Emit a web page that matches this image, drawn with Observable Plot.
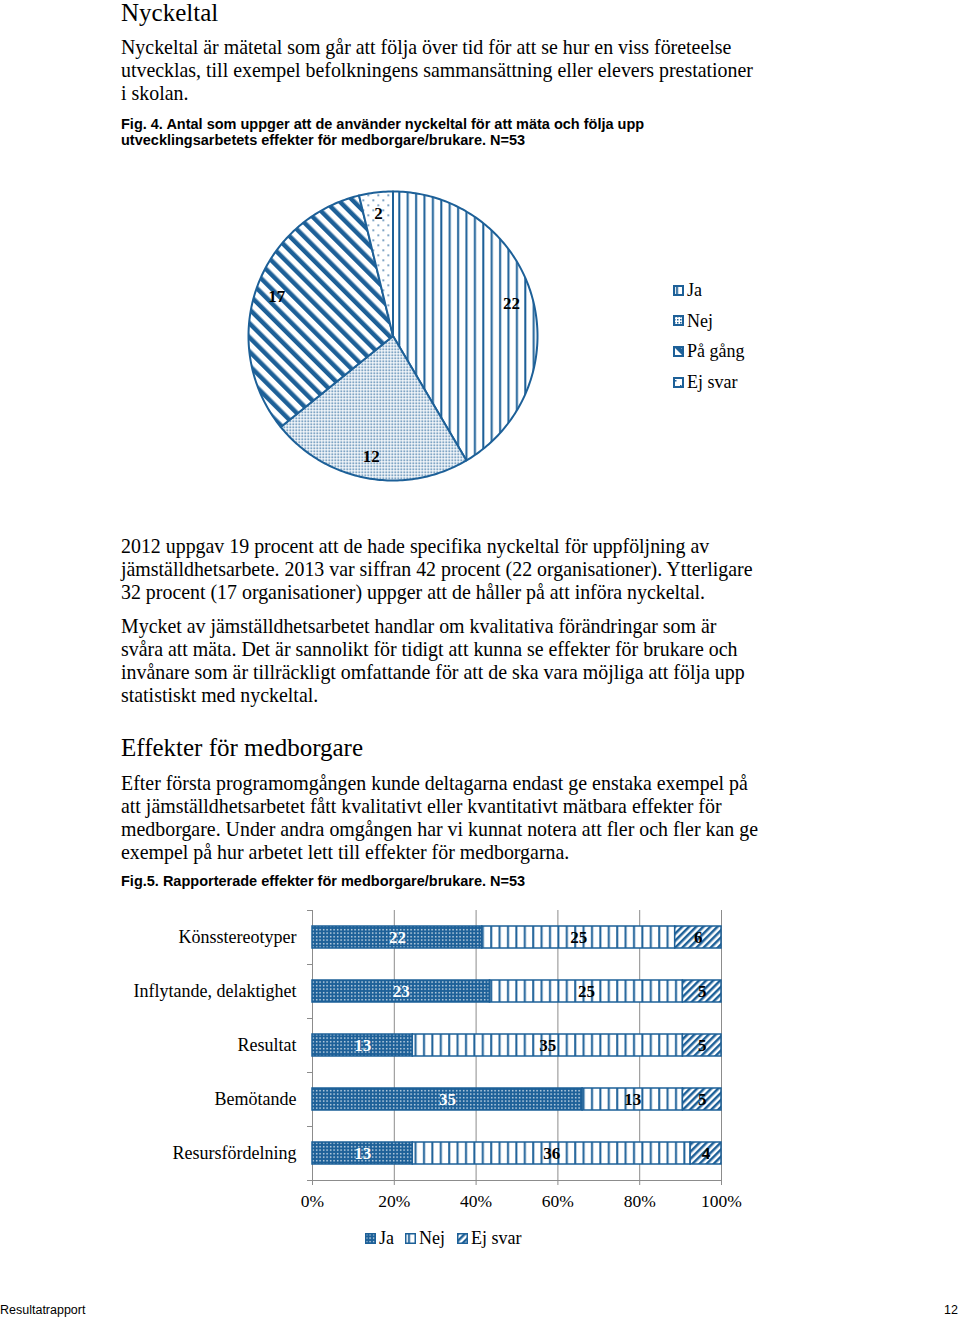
<!DOCTYPE html>
<html>
<head>
<meta charset="utf-8">
<script src="https://cdn.jsdelivr.net/npm/d3@7"></script>
<script src="https://cdn.jsdelivr.net/npm/@observablehq/plot@0.6"></script>
<style>
  body { margin: 0; background: #fff; }
  #page { position: relative; width: 960px; height: 1318px; overflow: hidden; background: #fff;
          font-family: "Liberation Serif", "Times New Roman", serif; color: #000; }
  .t { position: absolute; white-space: nowrap; }
  .h { font-size: 25px; line-height: 24px; }
  .p { font-size: 19.9px; line-height: 23px; }
  .cap { font-family: "Liberation Sans", Arial, sans-serif; font-weight: bold; font-size: 14.5px; line-height: 16px; }
  .foot { font-family: "Liberation Sans", Arial, sans-serif; font-size: 12.5px; line-height: 16px; }
  .chart { position: absolute; left: 0; }
  .leg { position: absolute; font-size: 18px; line-height: 20px; white-space: nowrap; display: flex; align-items: center; }
  .leg svg { display: block; margin-right: 3px; }
</style>
</head>
<body>
<svg width="0" height="0" style="position:absolute">
  <defs>
    <pattern id="pVert" width="8.4" height="8" patternUnits="userSpaceOnUse">
      <rect width="8.4" height="8" fill="#fff"/>
      <rect x="3" width="2" height="8" fill="#1d6098"/>
    </pattern>
    <pattern id="pDense" width="3" height="3" patternUnits="userSpaceOnUse">
      <rect width="3" height="3" fill="#fff"/>
      <rect x="1" y="1" width="1.5" height="1.5" fill="#1d6098"/>
    </pattern>
    <pattern id="pBack" width="10" height="10" patternUnits="userSpaceOnUse" patternTransform="rotate(-45)">
      <rect width="10" height="10" fill="#fff"/>
      <rect x="0" width="4.5" height="10" fill="#1d6098"/>
    </pattern>
    <pattern id="pSparse" width="10" height="10" patternUnits="userSpaceOnUse">
      <rect width="10" height="10" fill="#fff"/>
      <rect x="2" y="3" width="1.5" height="1.5" fill="#1d6098"/>
      <rect x="7" y="8" width="1.5" height="1.5" fill="#1d6098"/>
    </pattern>
    <pattern id="pBlueDots" width="3.5" height="3.5" patternUnits="userSpaceOnUse">
      <rect width="3.5" height="3.5" fill="#1d6098"/>
      <rect x="1" y="1" width="1.3" height="1.3" fill="#fff"/>
    </pattern>
    <pattern id="pSlash" width="5" height="5" patternUnits="userSpaceOnUse" patternTransform="rotate(45)">
      <rect width="5" height="5" fill="#fff"/>
      <rect x="0" width="2.5" height="5" fill="#1d6098"/>
    </pattern>
  </defs>
</svg>

<div id="page">
  <div class="t h" style="left:121px; top:1px;">Nyckeltal</div>
  <div class="t p" style="left:121px; top:35.5px;">Nyckeltal är mätetal som går att följa över tid för att se hur en viss företeelse<br>utvecklas, till exempel befolkningens sammansättning eller elevers prestationer<br>i skolan.</div>
  <div class="t cap" style="left:121px; top:116px;">Fig. 4. Antal som uppger att de använder nyckeltal för att mäta och följa upp<br>utvecklingsarbetets effekter för medborgare/brukare. N=53</div>

  <div id="pie" class="chart" style="top:176px;"></div>
  <div id="pieLegend"></div>

  <div class="t p" style="left:121px; top:534.5px;">2012 uppgav 19 procent att de hade specifika nyckeltal för uppföljning av<br>jämställdhetsarbete. 2013 var siffran 42 procent (22 organisationer). Ytterligare<br>32 procent (17 organisationer) uppger att de håller på att införa nyckeltal.</div>
  <div class="t p" style="left:121px; top:614.5px;">Mycket av jämställdhetsarbetet handlar om kvalitativa förändringar som är<br>svåra att mäta. Det är sannolikt för tidigt att kunna se effekter för brukare och<br>invånare som är tillräckligt omfattande för att de ska vara möjliga att följa upp<br>statistiskt med nyckeltal.</div>
  <div class="t h" style="left:121px; top:736px;">Effekter för medborgare</div>
  <div class="t p" style="left:121px; top:771.5px;">Efter första programomgången kunde deltagarna endast ge enstaka exempel på<br>att jämställdhetsarbetet fått kvalitativt eller kvantitativt mätbara effekter för<br>medborgare. Under andra omgången har vi kunnat notera att fler och fler kan ge<br>exempel på hur arbetet lett till effekter för medborgarna.</div>
  <div class="t cap" style="left:121px; top:873px;">Fig.5. Rapporterade effekter för medborgare/brukare. N=53</div>

  <div id="bars" class="chart" style="top:900px;"></div>
  <div id="barLegend"></div>

  <div class="t foot" style="left:0px; top:1302px;">Resultatrapport</div>
  <div class="t foot" style="right:2px; top:1302px;">12</div>
</div>

<script>
// ---- data ----
const pieCategories = ["Ja", "Nej", "På gång", "Ej svar"];
const pieValues = [22, 12, 17, 2];

const barCategories = ["Könsstereotyper", "Inflytande, delaktighet", "Resultat", "Bemötande", "Resursfördelning"];
const barSeries = ["Ja", "Nej", "Ej svar"];
const jaValues = [22, 23, 13, 35, 13];
const nejValues = [25, 25, 35, 13, 36];
const ejSvarValues = [6, 5, 5, 5, 4];
const xTickValues = [0, 0.2, 0.4, 0.6, 0.8, 1];

// ---- styles ----
const blue = "#1d6098";
const gray = "#8c8c8c";
const piePatterns = ["url(#pVert)", "url(#pDense)", "url(#pBack)", "url(#pSparse)"];
const barPatterns = ["url(#pBlueDots)", "url(#pVert)", "url(#pSlash)"];
const font = "'Liberation Serif', 'Times New Roman', serif";

// ---- pie ----
const pieData = pieCategories.map((cat, i) => ({cat, value: pieValues[i]}));
const arcs = d3.pie().sort(null).value(d => d.value)(pieData);
const piePoints = arcs.flatMap(a => {
  const n = Math.max(2, Math.ceil((a.endAngle - a.startAngle) / (Math.PI / 180)));
  const pts = [{cat: a.data.cat, x: 0, y: 0}];
  for (let i = 0; i <= n; i++) {
    const t = a.startAngle + (a.endAngle - a.startAngle) * i / n;
    pts.push({cat: a.data.cat, x: Math.sin(t), y: Math.cos(t)});
  }
  return pts;
});
const pieLabels = arcs.map(a => {
  const m = (a.startAngle + a.endAngle) / 2;
  return {value: a.data.value, x: 0.85 * Math.sin(m), y: 0.85 * Math.cos(m)};
});

const pie = Plot.plot({
  width: 960, height: 320, margin: 0,
  style: {fontFamily: font, background: "transparent", color: "#000", overflow: "visible"},
  x: {domain: [-1, 1], range: [248, 537], axis: null},
  y: {domain: [-1, 1], range: [304, 15], axis: null},
  color: {domain: pieCategories, range: piePatterns},
  marks: [
    Plot.line(piePoints, {x: "x", y: "y", z: "cat", fill: "cat", stroke: blue, strokeWidth: 2,
                          curve: "linear-closed", strokeLinejoin: "round"}),
    Plot.text(pieLabels, {x: "x", y: "y", text: "value", fontWeight: "bold", fontSize: 17, fill: "#000"})
  ]
});
document.getElementById("pie").appendChild(pie);

// pie legend
const pieLegend = document.getElementById("pieLegend");
pieCategories.forEach((c, i) => {
  const d = document.createElement("div");
  d.className = "leg";
  d.style.left = "673px";
  d.style.top = (280 + i * 30.7) + "px";
  d.innerHTML = `<svg width="11" height="11"><rect x="1" y="1" width="9" height="9" fill="${piePatterns[i]}" stroke="${blue}" stroke-width="2"/></svg><span>${c}</span>`;
  pieLegend.appendChild(d);
});

// ---- bars ----
const barData = barCategories.flatMap((cat, i) => [
  {cat, series: "Ja", value: jaValues[i]},
  {cat, series: "Nej", value: nejValues[i]},
  {cat, series: "Ej svar", value: ejSvarValues[i]}
]);
const stackOpts = {x: "value", y: "cat", z: "series", offset: "normalize", order: barSeries};

const bars = Plot.plot({
  width: 960, height: 315,
  marginTop: 10, marginBottom: 35, marginLeft: 312, marginRight: 239,
  style: {fontFamily: font, fontSize: "18px", background: "transparent", color: "#000", overflow: "visible"},
  x: {domain: [0, 1], axis: null, label: null},
  y: {domain: barCategories, paddingInner: 0.59, paddingOuter: 0.295, axis: null, label: null},
  color: {domain: barSeries, range: barPatterns},
  marks: [
    Plot.gridX(xTickValues, {stroke: gray, strokeOpacity: 1}),
    Plot.ruleX([0], {stroke: gray}),
    Plot.ruleY([barCategories[barCategories.length - 1]], {dy: 27, stroke: gray}),
    Plot.axisX(xTickValues, {tickFormat: d3.format(".0%"), tickSize: 5, tickPadding: 9, stroke: gray,
                             fill: "#000", fontSize: 17.5, label: null}),
    Plot.axisY({tickSize: 0, tickPadding: 16, fontSize: 18, fill: "#000", label: null}),
    Plot.axisY({tickSize: 5, tickFormat: () => "", dy: 27, stroke: gray, label: null}),
    Plot.axisY({tickSize: 5, tickFormat: () => "", dy: -27, stroke: gray, label: null}),
    Plot.barX(barData, Plot.stackX({...stackOpts, fill: "series", stroke: blue, strokeWidth: 1.5})),
    Plot.text(barData, Plot.stackX({...stackOpts, text: d => d.series === "Ja" ? d.value : "",
                                     fill: "#fff", fontWeight: "bold", fontSize: 17})),
    Plot.text(barData, Plot.stackX({...stackOpts, text: d => d.series !== "Ja" ? d.value : "",
                                     fill: "#000", fontWeight: "bold", fontSize: 17}))
  ]
});
document.getElementById("bars").appendChild(bars);

// bar legend
const barLegend = document.getElementById("barLegend");
const legLefts = [365, 405, 457];
barSeries.forEach((s, i) => {
  const d = document.createElement("div");
  d.className = "leg";
  d.style.left = legLefts[i] + "px";
  d.style.top = "1228px";
  d.innerHTML = `<svg width="11" height="11"><rect x="0.75" y="0.75" width="9.5" height="9.5" fill="${barPatterns[i]}" stroke="${blue}" stroke-width="1.5"/></svg><span>${s}</span>`;
  barLegend.appendChild(d);
});
</script>
</body>
</html>
